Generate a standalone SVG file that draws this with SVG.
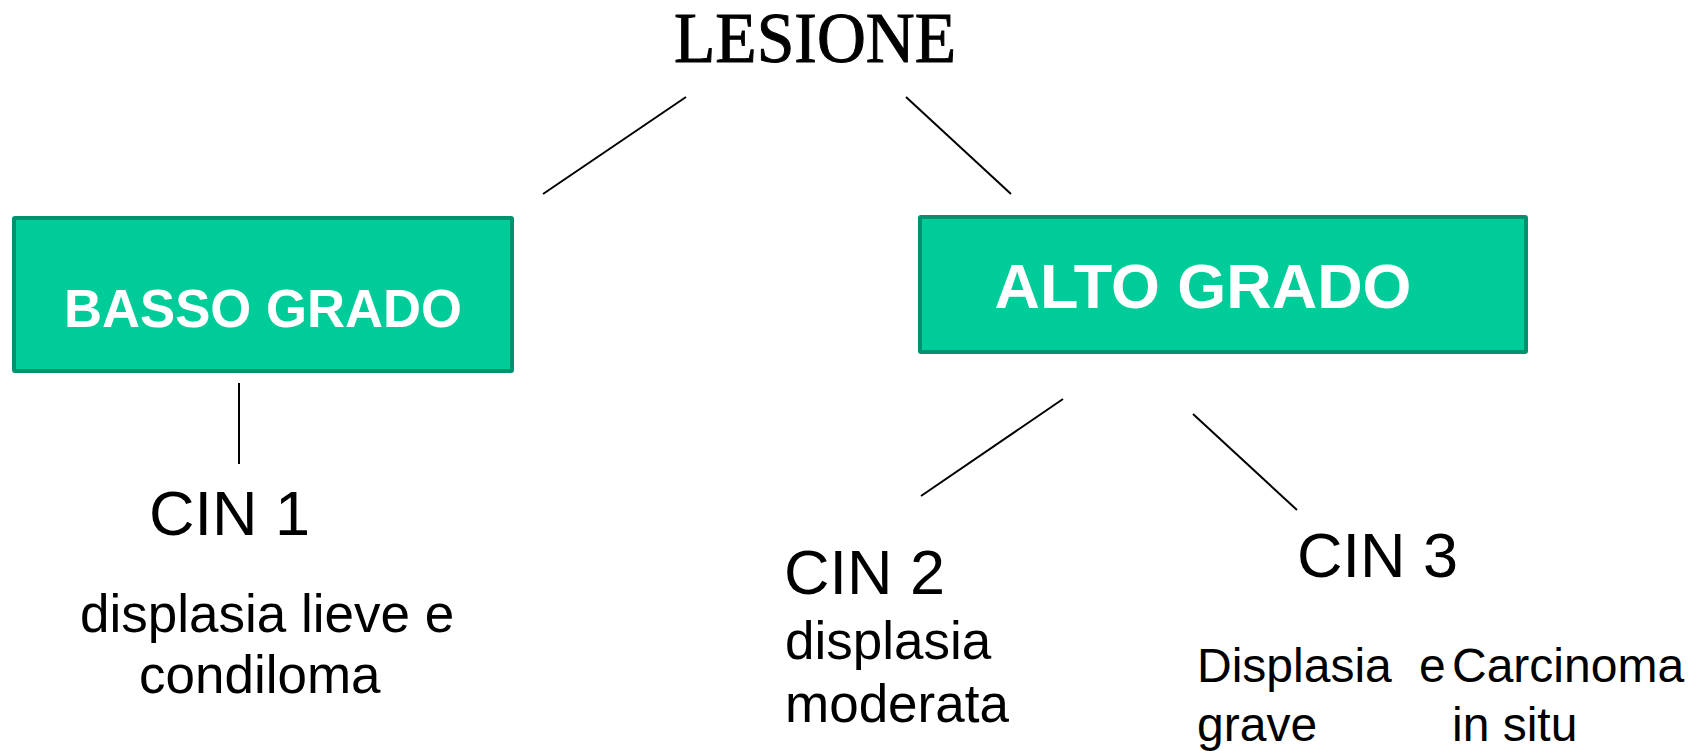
<svg xmlns="http://www.w3.org/2000/svg" width="1705" height="751" viewBox="0 0 1705 751">
<style>
.box{fill:#00CC99;stroke:#00926E;stroke-width:4}
.bt{font-family:"Liberation Sans",Arial,sans-serif;font-weight:bold;fill:#fff;text-anchor:middle}
.t{font-family:"Liberation Sans",Arial,sans-serif;fill:#000}
.ln{stroke:#000;stroke-width:2;fill:none}
</style>
<rect width="1705" height="751" fill="#fff"/>
<g id="lesione">
<text x="815" y="62" font-family="Liberation Serif,serif" font-size="72" text-anchor="middle" textLength="282" lengthAdjust="spacingAndGlyphs" stroke="#000" stroke-width="1">LESIONE</text>
</g>
<g id="connectors" class="ln">
<line x1="686" y1="97" x2="543" y2="194"/>
<line x1="906" y1="97" x2="1011" y2="194"/>
<line x1="239" y1="383" x2="239" y2="464"/>
<line x1="1063" y1="399" x2="921" y2="496"/>
<line x1="1193" y1="414" x2="1297" y2="510"/>
</g>
<g id="basso">
<rect class="box" x="14" y="218" width="498" height="153" rx="1"/>
<text class="bt" x="263" y="327" font-size="53" textLength="398" lengthAdjust="spacingAndGlyphs">BASSO GRADO</text>
</g>
<g id="alto">
<rect class="box" x="920" y="217" width="606" height="135" rx="1"/>
<text class="bt" x="1203" y="308" font-size="63" textLength="417" lengthAdjust="spacingAndGlyphs">ALTO GRADO</text>
</g>
<g id="cin1">
<text class="t" x="149" y="535" font-size="63">CIN 1</text>
<text class="t" x="80" y="632" font-size="53">displasia lieve e</text>
<text class="t" x="139" y="693" font-size="53">condiloma</text>
</g>
<g id="cin2">
<text class="t" x="784" y="594" font-size="63">CIN 2</text>
<text class="t" x="785" y="659" font-size="53">displasia</text>
<text class="t" x="785" y="722" font-size="53">moderata</text>
</g>
<g id="cin3">
<text class="t" x="1297" y="577" font-size="63">CIN 3</text>
<text class="t" x="1197" y="682" font-size="48">Displasia</text>
<text class="t" x="1197" y="741" font-size="48">grave</text>
<text class="t" x="1419" y="682" font-size="48">e</text>
<text class="t" x="1452" y="682" font-size="48">Carcinoma</text>
<text class="t" x="1452" y="741" font-size="48">in situ</text>
</g>
</svg>
